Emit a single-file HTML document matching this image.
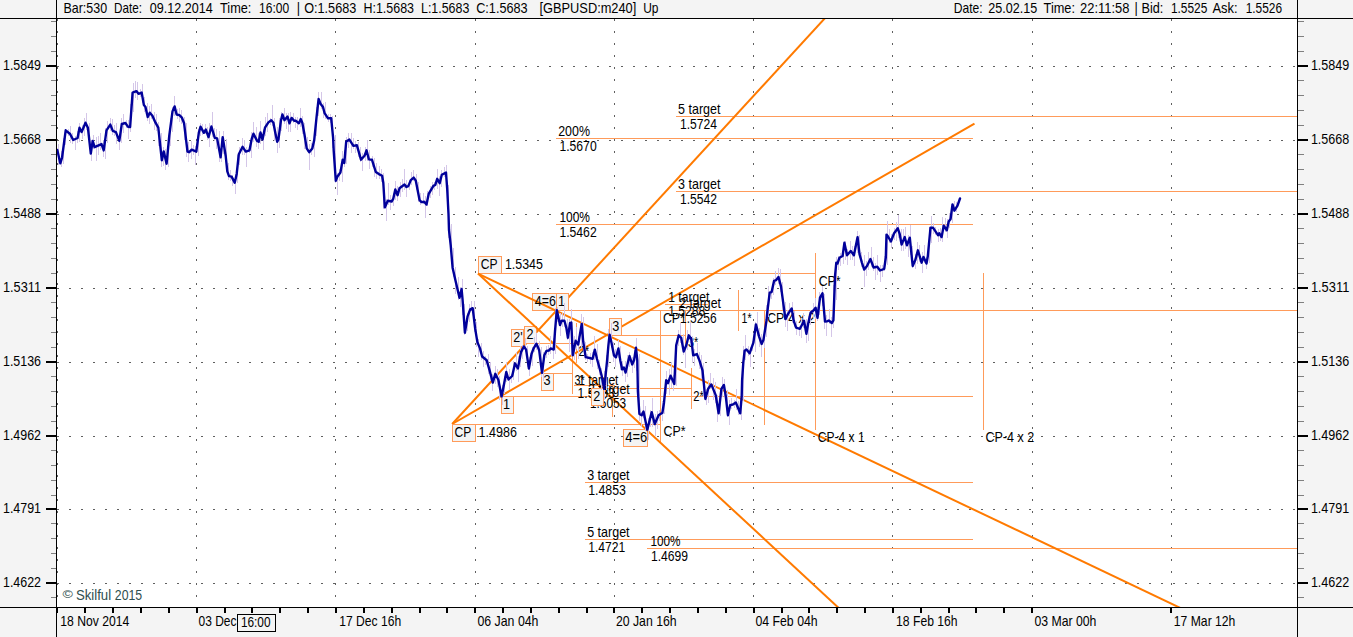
<!DOCTYPE html>
<html><head><meta charset="utf-8"><title>GBPUSD m240</title>
<style>html,body{margin:0;padding:0;background:#f4f4f4;}body{width:1353px;height:637px;overflow:hidden;}svg{display:block;font-family:"Liberation Sans",sans-serif;font-size:13.75px;fill:#000;}.c{shape-rendering:crispEdges;}</style></head><body>
<svg width="1353" height="637" viewBox="0 0 1353 637">
<rect x="0" y="0" width="1353" height="637" fill="#f4f4f4"/>
<rect class="c" x="57" y="19" width="1240" height="588" fill="#fff"/>
<g class="c" stroke="#606060" stroke-width="1" fill="none">
<line x1="57" y1="66.5" x2="1297" y2="66.5" stroke-dasharray="2 10"/>
<line x1="57" y1="140.5" x2="1297" y2="140.5" stroke-dasharray="2 10"/>
<line x1="57" y1="214.5" x2="1297" y2="214.5" stroke-dasharray="2 10"/>
<line x1="57" y1="288.5" x2="1297" y2="288.5" stroke-dasharray="2 10"/>
<line x1="57" y1="362.5" x2="1297" y2="362.5" stroke-dasharray="2 10"/>
<line x1="57" y1="436.5" x2="1297" y2="436.5" stroke-dasharray="2 10"/>
<line x1="57" y1="509.5" x2="1297" y2="509.5" stroke-dasharray="2 10"/>
<line x1="57" y1="583.5" x2="1297" y2="583.5" stroke-dasharray="2 10"/>
<line x1="57.5" y1="19" x2="57.5" y2="607" stroke-dasharray="2 10"/>
<line x1="196.5" y1="19" x2="196.5" y2="607" stroke-dasharray="2 10"/>
<line x1="335.5" y1="19" x2="335.5" y2="607" stroke-dasharray="2 10"/>
<line x1="475.5" y1="19" x2="475.5" y2="607" stroke-dasharray="2 10"/>
<line x1="614.5" y1="19" x2="614.5" y2="607" stroke-dasharray="2 10"/>
<line x1="753.5" y1="19" x2="753.5" y2="607" stroke-dasharray="2 10"/>
<line x1="892.5" y1="19" x2="892.5" y2="607" stroke-dasharray="2 10"/>
<line x1="1032.5" y1="19" x2="1032.5" y2="607" stroke-dasharray="2 10"/>
<line x1="1171.5" y1="19" x2="1171.5" y2="607" stroke-dasharray="2 10"/>
</g>
<defs><clipPath id="cp"><rect x="57" y="19" width="1240" height="588"/></clipPath></defs>
<g clip-path="url(#cp)">
<g class="c" stroke="#ff9b5a" stroke-width="1" fill="none">
<line x1="556" y1="138.5" x2="973" y2="138.5"/>
<line x1="676" y1="116.5" x2="1297" y2="116.5"/>
<line x1="676" y1="191.5" x2="1297" y2="191.5"/>
<line x1="556" y1="224.5" x2="973" y2="224.5"/>
<line x1="478" y1="273.5" x2="816" y2="273.5"/>
<line x1="815.5" y1="253" x2="815.5" y2="430"/>
<line x1="568" y1="310.5" x2="1297" y2="310.5"/>
<line x1="536" y1="343.5" x2="576" y2="343.5"/>
<line x1="576.5" y1="323" x2="576.5" y2="363"/>
<line x1="541" y1="373.5" x2="572" y2="373.5"/>
<line x1="572.5" y1="353" x2="572.5" y2="394"/>
<line x1="621" y1="335.5" x2="686" y2="335.5"/>
<line x1="685.5" y1="310" x2="685.5" y2="356"/>
<line x1="660.5" y1="310" x2="660.5" y2="443"/>
<line x1="738.5" y1="290" x2="738.5" y2="331"/>
<line x1="764.5" y1="310" x2="764.5" y2="425"/>
<line x1="983.5" y1="273" x2="983.5" y2="430"/>
<line x1="501" y1="396.5" x2="973" y2="396.5"/>
<line x1="452" y1="424.5" x2="661" y2="424.5"/>
<line x1="603" y1="388.5" x2="692" y2="388.5"/>
<line x1="691.5" y1="368" x2="691.5" y2="409"/>
<line x1="665" y1="304.5" x2="708" y2="304.5"/>
<line x1="574" y1="385.5" x2="615" y2="385.5"/>
<line x1="612.5" y1="383" x2="612.5" y2="417"/>
<line x1="585" y1="482.5" x2="973" y2="482.5"/>
<line x1="585" y1="539.5" x2="973" y2="539.5"/>
<line x1="647" y1="548.5" x2="1297" y2="548.5"/>
</g>
<g stroke="#ff7a00" stroke-width="2.0" fill="none" stroke-linecap="butt">
<line x1="452.2" y1="424.0" x2="852.2" y2="-11.5"/>
<line x1="452.2" y1="424.0" x2="974.5" y2="123.6"/>
</g>
<rect class="c" x="478.5" y="256.5" width="23" height="17" fill="#f4f4f4" stroke="#ff9b5a" stroke-width="1"/>
<rect class="c" x="452.5" y="424.5" width="23" height="17" fill="#f4f4f4" stroke="#ff9b5a" stroke-width="1"/>
<rect class="c" x="532.5" y="293.5" width="24" height="17" fill="#f4f4f4" stroke="#ff9b5a" stroke-width="1"/>
<rect class="c" x="556.5" y="293.5" width="12" height="17" fill="#f4f4f4" stroke="#ff9b5a" stroke-width="1"/>
<rect class="c" x="511.5" y="329.5" width="12" height="17" fill="#f4f4f4" stroke="#ff9b5a" stroke-width="1"/>
<rect class="c" x="524.5" y="326.5" width="12" height="17" fill="#f4f4f4" stroke="#ff9b5a" stroke-width="1"/>
<rect class="c" x="541.5" y="373.5" width="12" height="17" fill="#f4f4f4" stroke="#ff9b5a" stroke-width="1"/>
<rect class="c" x="501.5" y="396.5" width="12" height="17" fill="#f4f4f4" stroke="#ff9b5a" stroke-width="1"/>
<rect class="c" x="609.5" y="318.5" width="12" height="17" fill="#f4f4f4" stroke="#ff9b5a" stroke-width="1"/>
<rect class="c" x="591.5" y="388.5" width="12" height="17" fill="#f4f4f4" stroke="#ff9b5a" stroke-width="1"/>
<rect class="c" x="623.5" y="429.5" width="24" height="17" fill="#f4f4f4" stroke="#ff9b5a" stroke-width="1"/>
<g stroke="#ff7a00" stroke-width="2.0" fill="none" stroke-linecap="butt">
<line x1="478.0" y1="273.6" x2="878.0" y2="644.4"/>
<line x1="478.0" y1="273.6" x2="1238.0" y2="635.4"/>
</g>
<text x="480.70" y="269.4" textLength="16.80" lengthAdjust="spacingAndGlyphs">CP</text>
<text x="454.60" y="437.1" textLength="16.80" lengthAdjust="spacingAndGlyphs">CP</text>
<text x="534.80" y="305.6" textLength="21.00" lengthAdjust="spacingAndGlyphs">4=6</text>
<text x="558.00" y="305.6" textLength="7.04" lengthAdjust="spacingAndGlyphs">1</text>
<text x="513.20" y="341.7" textLength="9.45" lengthAdjust="spacingAndGlyphs">2'</text>
<text x="526.40" y="338.7" textLength="7.04" lengthAdjust="spacingAndGlyphs">2</text>
<text x="543.60" y="385.3" textLength="7.04" lengthAdjust="spacingAndGlyphs">3</text>
<text x="503.00" y="408.6" textLength="7.04" lengthAdjust="spacingAndGlyphs">1</text>
<text x="612.20" y="330.5" textLength="7.04" lengthAdjust="spacingAndGlyphs">3</text>
<text x="625.20" y="441.7" textLength="22.00" lengthAdjust="spacingAndGlyphs">4=6</text>
<text x="504.90" y="269.4" textLength="38.00" lengthAdjust="spacingAndGlyphs">1.5345</text>
<text x="478.60" y="437.1" textLength="38.30" lengthAdjust="spacingAndGlyphs">1.4986</text>
<text x="558.20" y="135.8" textLength="31.80" lengthAdjust="spacingAndGlyphs">200%</text>
<text x="559.40" y="151.1" textLength="37.30" lengthAdjust="spacingAndGlyphs">1.5670</text>
<text x="678.10" y="113.6" textLength="42.40" lengthAdjust="spacingAndGlyphs">5 target</text>
<text x="680.00" y="128.7" textLength="37.10" lengthAdjust="spacingAndGlyphs">1.5724</text>
<text x="678.10" y="188.6" textLength="42.40" lengthAdjust="spacingAndGlyphs">3 target</text>
<text x="680.00" y="203.7" textLength="37.10" lengthAdjust="spacingAndGlyphs">1.5542</text>
<text x="559.40" y="221.5" textLength="30.60" lengthAdjust="spacingAndGlyphs">100%</text>
<text x="559.40" y="237.2" textLength="37.30" lengthAdjust="spacingAndGlyphs">1.5462</text>
<text x="587.20" y="479.5" textLength="42.40" lengthAdjust="spacingAndGlyphs">3 target</text>
<text x="588.20" y="494.5" textLength="37.70" lengthAdjust="spacingAndGlyphs">1.4853</text>
<text x="587.20" y="537.0" textLength="42.40" lengthAdjust="spacingAndGlyphs">5 target</text>
<text x="588.20" y="551.9" textLength="37.10" lengthAdjust="spacingAndGlyphs">1.4721</text>
<text x="650.40" y="546.0" textLength="30.10" lengthAdjust="spacingAndGlyphs">100%</text>
<text x="651.00" y="561.2" textLength="37.10" lengthAdjust="spacingAndGlyphs">1.4699</text>
<text x="668.20" y="301.6" textLength="41.20" lengthAdjust="spacingAndGlyphs">1 target</text>
<text x="668.20" y="316.0" textLength="37.10" lengthAdjust="spacingAndGlyphs">1.5288</text>
<text x="679.20" y="307.6" textLength="41.80" lengthAdjust="spacingAndGlyphs">2 target</text>
<text x="680.00" y="322.6" textLength="36.60" lengthAdjust="spacingAndGlyphs">1.5256</text>
<text x="662.90" y="322.7" textLength="22.00" lengthAdjust="spacingAndGlyphs">CP*</text>
<text x="574.40" y="384.8" textLength="10.20" lengthAdjust="spacingAndGlyphs">3*</text>
<text x="578.50" y="384.8" textLength="39.90" lengthAdjust="spacingAndGlyphs">1 target</text>
<text x="577.60" y="397.6" textLength="37.10" lengthAdjust="spacingAndGlyphs">1.5083</text>
<text x="587.90" y="393.6" textLength="41.80" lengthAdjust="spacingAndGlyphs">2 target</text>
<text x="590.00" y="408.3" textLength="36.20" lengthAdjust="spacingAndGlyphs">1.5053</text>
<text x="578.50" y="355.9" textLength="10.60" lengthAdjust="spacingAndGlyphs">2*</text>
<text x="688.00" y="347.2" textLength="10.20" lengthAdjust="spacingAndGlyphs">3*</text>
<text x="693.20" y="400.5" textLength="10.60" lengthAdjust="spacingAndGlyphs">2*</text>
<text x="741.50" y="322.6" textLength="10.00" lengthAdjust="spacingAndGlyphs">1*</text>
<text x="767.20" y="322.6" textLength="47.80" lengthAdjust="spacingAndGlyphs">CP-4 x 2</text>
<text x="818.70" y="285.8" textLength="22.00" lengthAdjust="spacingAndGlyphs">CP*</text>
<text x="817.80" y="441.6" textLength="46.80" lengthAdjust="spacingAndGlyphs">CP-4 x 1</text>
<text x="985.40" y="441.6" textLength="48.80" lengthAdjust="spacingAndGlyphs">CP-4 x 2</text>
<text x="663.60" y="436.4" textLength="22.00" lengthAdjust="spacingAndGlyphs">CP*</text>
<rect class="c" x="591.5" y="388.5" width="12" height="17" fill="#f4f4f4" stroke="#ff9b5a" stroke-width="1"/>
<text x="593.30" y="400.8" textLength="7.04" lengthAdjust="spacingAndGlyphs">2</text>
<g class="c" stroke="#d4c6e8" stroke-width="1">
<line x1="58.5" y1="144.0" x2="58.5" y2="164.6"/>
<line x1="61.5" y1="150.9" x2="61.5" y2="166.7"/>
<line x1="63.5" y1="137.5" x2="63.5" y2="164.2"/>
<line x1="65.5" y1="129.1" x2="65.5" y2="145.1"/>
<line x1="68.5" y1="129.0" x2="68.5" y2="136.1"/>
<line x1="70.5" y1="126.0" x2="70.5" y2="143.3"/>
<line x1="72.5" y1="133.2" x2="72.5" y2="143.8"/>
<line x1="75.5" y1="135.8" x2="75.5" y2="149.8"/>
<line x1="77.5" y1="131.4" x2="77.5" y2="142.8"/>
<line x1="79.5" y1="123.4" x2="79.5" y2="141.9"/>
<line x1="82.5" y1="125.0" x2="82.5" y2="138.9"/>
<line x1="84.5" y1="118.4" x2="84.5" y2="136.2"/>
<line x1="86.5" y1="112.6" x2="86.5" y2="129.9"/>
<line x1="89.5" y1="122.8" x2="89.5" y2="148.1"/>
<line x1="91.5" y1="140.3" x2="91.5" y2="161.3"/>
<line x1="93.5" y1="134.9" x2="93.5" y2="148.9"/>
<line x1="96.5" y1="137.2" x2="96.5" y2="160.7"/>
<line x1="98.5" y1="136.2" x2="98.5" y2="155.2"/>
<line x1="100.5" y1="133.1" x2="100.5" y2="150.2"/>
<line x1="103.5" y1="140.2" x2="103.5" y2="156.8"/>
<line x1="105.5" y1="128.2" x2="105.5" y2="159.4"/>
<line x1="107.5" y1="121.4" x2="107.5" y2="142.7"/>
<line x1="110.5" y1="117.7" x2="110.5" y2="130.5"/>
<line x1="112.5" y1="118.5" x2="112.5" y2="135.0"/>
<line x1="114.5" y1="125.0" x2="114.5" y2="135.9"/>
<line x1="116.5" y1="122.9" x2="116.5" y2="143.8"/>
<line x1="119.5" y1="134.0" x2="119.5" y2="149.7"/>
<line x1="121.5" y1="117.9" x2="121.5" y2="142.6"/>
<line x1="123.5" y1="114.2" x2="123.5" y2="132.9"/>
<line x1="126.5" y1="120.2" x2="126.5" y2="128.3"/>
<line x1="128.5" y1="120.2" x2="128.5" y2="139.0"/>
<line x1="130.5" y1="104.1" x2="130.5" y2="131.9"/>
<line x1="133.5" y1="83.1" x2="133.5" y2="112.2"/>
<line x1="135.5" y1="81.2" x2="135.5" y2="98.1"/>
<line x1="137.5" y1="82.2" x2="137.5" y2="99.8"/>
<line x1="140.5" y1="88.9" x2="140.5" y2="96.8"/>
<line x1="142.5" y1="83.9" x2="142.5" y2="103.2"/>
<line x1="144.5" y1="96.8" x2="144.5" y2="112.2"/>
<line x1="147.5" y1="103.0" x2="147.5" y2="120.8"/>
<line x1="149.5" y1="106.2" x2="149.5" y2="123.9"/>
<line x1="151.5" y1="104.1" x2="151.5" y2="119.0"/>
<line x1="154.5" y1="111.8" x2="154.5" y2="130.2"/>
<line x1="156.5" y1="114.0" x2="156.5" y2="130.6"/>
<line x1="158.5" y1="121.5" x2="158.5" y2="145.5"/>
<line x1="161.5" y1="132.7" x2="161.5" y2="167.0"/>
<line x1="163.5" y1="147.1" x2="163.5" y2="166.3"/>
<line x1="165.5" y1="148.8" x2="165.5" y2="169.9"/>
<line x1="168.5" y1="137.2" x2="168.5" y2="166.6"/>
<line x1="170.5" y1="118.2" x2="170.5" y2="146.0"/>
<line x1="172.5" y1="107.3" x2="172.5" y2="131.8"/>
<line x1="174.5" y1="95.6" x2="174.5" y2="115.9"/>
<line x1="177.5" y1="108.5" x2="177.5" y2="118.9"/>
<line x1="179.5" y1="107.8" x2="179.5" y2="122.1"/>
<line x1="181.5" y1="110.1" x2="181.5" y2="123.6"/>
<line x1="184.5" y1="117.4" x2="184.5" y2="139.6"/>
<line x1="186.5" y1="123.0" x2="186.5" y2="156.9"/>
<line x1="188.5" y1="142.3" x2="188.5" y2="161.9"/>
<line x1="191.5" y1="140.8" x2="191.5" y2="158.9"/>
<line x1="193.5" y1="144.8" x2="193.5" y2="154.8"/>
<line x1="195.5" y1="145.5" x2="195.5" y2="165.2"/>
<line x1="198.5" y1="129.4" x2="198.5" y2="156.1"/>
<line x1="200.5" y1="123.0" x2="200.5" y2="135.7"/>
<line x1="202.5" y1="123.8" x2="202.5" y2="135.2"/>
<line x1="205.5" y1="123.8" x2="205.5" y2="134.0"/>
<line x1="207.5" y1="126.6" x2="207.5" y2="140.3"/>
<line x1="209.5" y1="122.8" x2="209.5" y2="147.1"/>
<line x1="212.5" y1="112.2" x2="212.5" y2="137.2"/>
<line x1="214.5" y1="128.0" x2="214.5" y2="140.9"/>
<line x1="216.5" y1="128.9" x2="216.5" y2="149.3"/>
<line x1="219.5" y1="130.9" x2="219.5" y2="161.9"/>
<line x1="221.5" y1="137.9" x2="221.5" y2="162.4"/>
<line x1="223.5" y1="130.5" x2="223.5" y2="154.0"/>
<line x1="226.5" y1="138.5" x2="226.5" y2="170.0"/>
<line x1="228.5" y1="163.2" x2="228.5" y2="180.1"/>
<line x1="230.5" y1="170.0" x2="230.5" y2="180.6"/>
<line x1="232.5" y1="174.5" x2="232.5" y2="185.7"/>
<line x1="235.5" y1="173.9" x2="235.5" y2="194.2"/>
<line x1="237.5" y1="154.5" x2="237.5" y2="183.2"/>
<line x1="239.5" y1="146.6" x2="239.5" y2="165.3"/>
<line x1="242.5" y1="138.4" x2="242.5" y2="154.7"/>
<line x1="244.5" y1="140.2" x2="244.5" y2="154.8"/>
<line x1="246.5" y1="146.7" x2="246.5" y2="167.4"/>
<line x1="249.5" y1="146.0" x2="249.5" y2="153.0"/>
<line x1="251.5" y1="132.4" x2="251.5" y2="157.5"/>
<line x1="253.5" y1="122.1" x2="253.5" y2="141.6"/>
<line x1="256.5" y1="126.7" x2="256.5" y2="146.5"/>
<line x1="258.5" y1="133.1" x2="258.5" y2="149.4"/>
<line x1="260.5" y1="121.3" x2="260.5" y2="143.5"/>
<line x1="263.5" y1="129.1" x2="263.5" y2="149.8"/>
<line x1="265.5" y1="116.9" x2="265.5" y2="135.5"/>
<line x1="267.5" y1="113.3" x2="267.5" y2="132.0"/>
<line x1="270.5" y1="117.6" x2="270.5" y2="125.4"/>
<line x1="272.5" y1="104.6" x2="272.5" y2="126.4"/>
<line x1="274.5" y1="118.3" x2="274.5" y2="140.5"/>
<line x1="277.5" y1="127.1" x2="277.5" y2="152.7"/>
<line x1="279.5" y1="117.8" x2="279.5" y2="147.9"/>
<line x1="281.5" y1="111.6" x2="281.5" y2="131.4"/>
<line x1="284.5" y1="107.8" x2="284.5" y2="123.8"/>
<line x1="286.5" y1="113.1" x2="286.5" y2="128.9"/>
<line x1="288.5" y1="113.2" x2="288.5" y2="131.9"/>
<line x1="290.5" y1="112.0" x2="290.5" y2="131.6"/>
<line x1="293.5" y1="112.9" x2="293.5" y2="122.7"/>
<line x1="295.5" y1="116.6" x2="295.5" y2="128.1"/>
<line x1="297.5" y1="117.0" x2="297.5" y2="130.1"/>
<line x1="300.5" y1="107.7" x2="300.5" y2="127.0"/>
<line x1="302.5" y1="115.5" x2="302.5" y2="134.1"/>
<line x1="304.5" y1="122.7" x2="304.5" y2="148.6"/>
<line x1="307.5" y1="137.1" x2="307.5" y2="152.3"/>
<line x1="309.5" y1="144.2" x2="309.5" y2="170.0"/>
<line x1="311.5" y1="143.2" x2="311.5" y2="155.0"/>
<line x1="314.5" y1="131.4" x2="314.5" y2="156.5"/>
<line x1="316.5" y1="107.2" x2="316.5" y2="136.2"/>
<line x1="318.5" y1="92.3" x2="318.5" y2="115.9"/>
<line x1="321.5" y1="92.2" x2="321.5" y2="108.5"/>
<line x1="323.5" y1="103.4" x2="323.5" y2="117.6"/>
<line x1="325.5" y1="102.3" x2="325.5" y2="119.0"/>
<line x1="328.5" y1="113.9" x2="328.5" y2="122.3"/>
<line x1="330.5" y1="114.3" x2="330.5" y2="123.3"/>
<line x1="332.5" y1="116.3" x2="332.5" y2="148.4"/>
<line x1="335.5" y1="134.7" x2="335.5" y2="182.5"/>
<line x1="337.5" y1="172.6" x2="337.5" y2="195.4"/>
<line x1="339.5" y1="168.5" x2="339.5" y2="180.7"/>
<line x1="342.5" y1="150.9" x2="342.5" y2="181.7"/>
<line x1="344.5" y1="150.4" x2="344.5" y2="167.1"/>
<line x1="346.5" y1="136.8" x2="346.5" y2="164.3"/>
<line x1="348.5" y1="133.1" x2="348.5" y2="147.8"/>
<line x1="351.5" y1="132.9" x2="351.5" y2="152.7"/>
<line x1="353.5" y1="137.6" x2="353.5" y2="148.7"/>
<line x1="355.5" y1="141.3" x2="355.5" y2="152.8"/>
<line x1="358.5" y1="142.4" x2="358.5" y2="156.6"/>
<line x1="360.5" y1="147.3" x2="360.5" y2="162.4"/>
<line x1="362.5" y1="152.8" x2="362.5" y2="170.5"/>
<line x1="365.5" y1="146.8" x2="365.5" y2="160.9"/>
<line x1="367.5" y1="140.1" x2="367.5" y2="161.0"/>
<line x1="369.5" y1="149.7" x2="369.5" y2="168.6"/>
<line x1="372.5" y1="155.6" x2="372.5" y2="166.7"/>
<line x1="374.5" y1="158.4" x2="374.5" y2="177.1"/>
<line x1="376.5" y1="162.9" x2="376.5" y2="179.2"/>
<line x1="379.5" y1="166.1" x2="379.5" y2="178.6"/>
<line x1="381.5" y1="168.6" x2="381.5" y2="182.3"/>
<line x1="383.5" y1="172.8" x2="383.5" y2="208.5"/>
<line x1="386.5" y1="199.1" x2="386.5" y2="220.6"/>
<line x1="388.5" y1="182.8" x2="388.5" y2="205.1"/>
<line x1="390.5" y1="195.0" x2="390.5" y2="209.5"/>
<line x1="393.5" y1="193.3" x2="393.5" y2="205.5"/>
<line x1="395.5" y1="181.3" x2="395.5" y2="199.7"/>
<line x1="397.5" y1="186.3" x2="397.5" y2="201.3"/>
<line x1="400.5" y1="182.4" x2="400.5" y2="196.5"/>
<line x1="402.5" y1="178.6" x2="402.5" y2="192.4"/>
<line x1="404.5" y1="168.7" x2="404.5" y2="189.7"/>
<line x1="406.5" y1="179.6" x2="406.5" y2="197.0"/>
<line x1="409.5" y1="180.0" x2="409.5" y2="190.4"/>
<line x1="411.5" y1="171.8" x2="411.5" y2="185.2"/>
<line x1="413.5" y1="169.8" x2="413.5" y2="181.0"/>
<line x1="416.5" y1="173.9" x2="416.5" y2="189.8"/>
<line x1="418.5" y1="182.3" x2="418.5" y2="201.7"/>
<line x1="420.5" y1="193.2" x2="420.5" y2="205.1"/>
<line x1="423.5" y1="192.7" x2="423.5" y2="204.1"/>
<line x1="425.5" y1="195.8" x2="425.5" y2="218.3"/>
<line x1="427.5" y1="190.5" x2="427.5" y2="206.2"/>
<line x1="430.5" y1="186.1" x2="430.5" y2="197.9"/>
<line x1="432.5" y1="182.1" x2="432.5" y2="195.2"/>
<line x1="434.5" y1="182.1" x2="434.5" y2="190.2"/>
<line x1="437.5" y1="169.0" x2="437.5" y2="189.4"/>
<line x1="439.5" y1="175.8" x2="439.5" y2="195.9"/>
<line x1="441.5" y1="170.4" x2="441.5" y2="186.6"/>
<line x1="444.5" y1="167.2" x2="444.5" y2="176.5"/>
<line x1="446.5" y1="164.6" x2="446.5" y2="190.1"/>
<line x1="448.5" y1="185.0" x2="448.5" y2="238.1"/>
<line x1="451.5" y1="224.4" x2="451.5" y2="261.9"/>
<line x1="453.5" y1="248.0" x2="453.5" y2="277.4"/>
<line x1="455.5" y1="267.0" x2="455.5" y2="293.6"/>
<line x1="458.5" y1="277.2" x2="458.5" y2="299.5"/>
<line x1="460.5" y1="287.3" x2="460.5" y2="307.3"/>
<line x1="462.5" y1="278.6" x2="462.5" y2="315.1"/>
<line x1="464.5" y1="304.0" x2="464.5" y2="334.8"/>
<line x1="467.5" y1="313.2" x2="467.5" y2="331.3"/>
<line x1="469.5" y1="304.3" x2="469.5" y2="322.4"/>
<line x1="471.5" y1="301.2" x2="471.5" y2="311.4"/>
<line x1="474.5" y1="301.3" x2="474.5" y2="332.1"/>
<line x1="476.5" y1="322.4" x2="476.5" y2="346.5"/>
<line x1="478.5" y1="339.0" x2="478.5" y2="356.5"/>
<line x1="481.5" y1="343.3" x2="481.5" y2="359.9"/>
<line x1="483.5" y1="350.6" x2="483.5" y2="367.3"/>
<line x1="485.5" y1="356.2" x2="485.5" y2="365.2"/>
<line x1="488.5" y1="354.1" x2="488.5" y2="374.0"/>
<line x1="490.5" y1="361.7" x2="490.5" y2="380.6"/>
<line x1="492.5" y1="374.3" x2="492.5" y2="390.8"/>
<line x1="495.5" y1="365.9" x2="495.5" y2="384.3"/>
<line x1="497.5" y1="368.8" x2="497.5" y2="386.6"/>
<line x1="499.5" y1="376.4" x2="499.5" y2="399.8"/>
<line x1="502.5" y1="385.3" x2="502.5" y2="405.3"/>
<line x1="504.5" y1="376.2" x2="504.5" y2="393.7"/>
<line x1="506.5" y1="362.2" x2="506.5" y2="381.7"/>
<line x1="509.5" y1="368.7" x2="509.5" y2="390.4"/>
<line x1="511.5" y1="374.1" x2="511.5" y2="383.4"/>
<line x1="513.5" y1="361.0" x2="513.5" y2="380.2"/>
<line x1="516.5" y1="352.3" x2="516.5" y2="370.5"/>
<line x1="518.5" y1="356.4" x2="518.5" y2="382.4"/>
<line x1="520.5" y1="346.4" x2="520.5" y2="366.8"/>
<line x1="522.5" y1="344.9" x2="522.5" y2="358.5"/>
<line x1="525.5" y1="338.0" x2="525.5" y2="351.5"/>
<line x1="527.5" y1="346.4" x2="527.5" y2="366.7"/>
<line x1="529.5" y1="356.7" x2="529.5" y2="376.4"/>
<line x1="532.5" y1="347.1" x2="532.5" y2="366.1"/>
<line x1="534.5" y1="336.6" x2="534.5" y2="352.3"/>
<line x1="536.5" y1="332.8" x2="536.5" y2="350.4"/>
<line x1="539.5" y1="341.2" x2="539.5" y2="358.3"/>
<line x1="541.5" y1="346.6" x2="541.5" y2="376.9"/>
<line x1="543.5" y1="351.7" x2="543.5" y2="380.5"/>
<line x1="546.5" y1="345.8" x2="546.5" y2="357.9"/>
<line x1="548.5" y1="345.2" x2="548.5" y2="354.8"/>
<line x1="550.5" y1="335.7" x2="550.5" y2="354.3"/>
<line x1="553.5" y1="338.4" x2="553.5" y2="359.2"/>
<line x1="555.5" y1="308.4" x2="555.5" y2="353.5"/>
<line x1="557.5" y1="307.3" x2="557.5" y2="322.4"/>
<line x1="560.5" y1="313.3" x2="560.5" y2="336.2"/>
<line x1="562.5" y1="312.7" x2="562.5" y2="327.1"/>
<line x1="564.5" y1="302.7" x2="564.5" y2="326.5"/>
<line x1="567.5" y1="319.3" x2="567.5" y2="339.9"/>
<line x1="569.5" y1="319.2" x2="569.5" y2="352.4"/>
<line x1="571.5" y1="308.6" x2="571.5" y2="356.0"/>
<line x1="574.5" y1="336.3" x2="574.5" y2="359.6"/>
<line x1="576.5" y1="327.0" x2="576.5" y2="349.0"/>
<line x1="578.5" y1="335.6" x2="578.5" y2="358.6"/>
<line x1="581.5" y1="313.9" x2="581.5" y2="347.1"/>
<line x1="583.5" y1="317.4" x2="583.5" y2="350.6"/>
<line x1="585.5" y1="342.1" x2="585.5" y2="360.3"/>
<line x1="587.5" y1="354.3" x2="587.5" y2="361.8"/>
<line x1="590.5" y1="352.8" x2="590.5" y2="364.4"/>
<line x1="592.5" y1="351.9" x2="592.5" y2="366.7"/>
<line x1="594.5" y1="336.2" x2="594.5" y2="360.2"/>
<line x1="597.5" y1="343.8" x2="597.5" y2="369.4"/>
<line x1="599.5" y1="360.1" x2="599.5" y2="374.7"/>
<line x1="601.5" y1="368.4" x2="601.5" y2="389.6"/>
<line x1="604.5" y1="371.2" x2="604.5" y2="400.3"/>
<line x1="606.5" y1="355.0" x2="606.5" y2="389.8"/>
<line x1="608.5" y1="329.1" x2="608.5" y2="366.9"/>
<line x1="611.5" y1="322.8" x2="611.5" y2="347.6"/>
<line x1="613.5" y1="342.2" x2="613.5" y2="361.6"/>
<line x1="615.5" y1="349.2" x2="615.5" y2="366.7"/>
<line x1="618.5" y1="340.1" x2="618.5" y2="357.5"/>
<line x1="620.5" y1="345.6" x2="620.5" y2="370.4"/>
<line x1="622.5" y1="361.0" x2="622.5" y2="376.3"/>
<line x1="625.5" y1="361.0" x2="625.5" y2="381.8"/>
<line x1="627.5" y1="354.6" x2="627.5" y2="377.2"/>
<line x1="629.5" y1="352.1" x2="629.5" y2="366.9"/>
<line x1="632.5" y1="356.6" x2="632.5" y2="373.1"/>
<line x1="634.5" y1="349.8" x2="634.5" y2="368.3"/>
<line x1="636.5" y1="337.5" x2="636.5" y2="370.5"/>
<line x1="639.5" y1="354.4" x2="639.5" y2="421.2"/>
<line x1="641.5" y1="412.1" x2="641.5" y2="426.8"/>
<line x1="643.5" y1="400.3" x2="643.5" y2="417.5"/>
<line x1="645.5" y1="406.1" x2="645.5" y2="430.6"/>
<line x1="648.5" y1="418.0" x2="648.5" y2="439.8"/>
<line x1="650.5" y1="409.7" x2="650.5" y2="427.3"/>
<line x1="652.5" y1="398.0" x2="652.5" y2="426.5"/>
<line x1="655.5" y1="414.2" x2="655.5" y2="435.9"/>
<line x1="657.5" y1="411.1" x2="657.5" y2="428.6"/>
<line x1="659.5" y1="410.0" x2="659.5" y2="421.3"/>
<line x1="662.5" y1="400.6" x2="662.5" y2="421.0"/>
<line x1="664.5" y1="387.2" x2="664.5" y2="414.1"/>
<line x1="666.5" y1="371.3" x2="666.5" y2="394.0"/>
<line x1="669.5" y1="368.8" x2="669.5" y2="395.3"/>
<line x1="671.5" y1="361.5" x2="671.5" y2="388.2"/>
<line x1="673.5" y1="375.0" x2="673.5" y2="390.7"/>
<line x1="676.5" y1="339.8" x2="676.5" y2="385.5"/>
<line x1="678.5" y1="329.7" x2="678.5" y2="346.1"/>
<line x1="680.5" y1="322.7" x2="680.5" y2="343.2"/>
<line x1="683.5" y1="333.8" x2="683.5" y2="355.4"/>
<line x1="685.5" y1="343.8" x2="685.5" y2="367.6"/>
<line x1="687.5" y1="329.8" x2="687.5" y2="350.0"/>
<line x1="690.5" y1="322.4" x2="690.5" y2="343.2"/>
<line x1="692.5" y1="336.1" x2="692.5" y2="363.2"/>
<line x1="694.5" y1="348.5" x2="694.5" y2="366.1"/>
<line x1="697.5" y1="343.2" x2="697.5" y2="359.1"/>
<line x1="699.5" y1="351.9" x2="699.5" y2="369.4"/>
<line x1="701.5" y1="355.1" x2="701.5" y2="378.8"/>
<line x1="703.5" y1="362.5" x2="703.5" y2="396.7"/>
<line x1="706.5" y1="388.9" x2="706.5" y2="404.6"/>
<line x1="708.5" y1="380.2" x2="708.5" y2="402.5"/>
<line x1="710.5" y1="373.2" x2="710.5" y2="389.4"/>
<line x1="713.5" y1="378.0" x2="713.5" y2="399.8"/>
<line x1="715.5" y1="381.6" x2="715.5" y2="402.6"/>
<line x1="717.5" y1="395.1" x2="717.5" y2="422.2"/>
<line x1="720.5" y1="389.2" x2="720.5" y2="415.7"/>
<line x1="722.5" y1="377.0" x2="722.5" y2="396.9"/>
<line x1="724.5" y1="379.2" x2="724.5" y2="396.8"/>
<line x1="727.5" y1="390.3" x2="727.5" y2="416.8"/>
<line x1="729.5" y1="400.2" x2="729.5" y2="425.1"/>
<line x1="731.5" y1="397.6" x2="731.5" y2="408.5"/>
<line x1="734.5" y1="400.2" x2="734.5" y2="407.6"/>
<line x1="736.5" y1="388.9" x2="736.5" y2="409.7"/>
<line x1="738.5" y1="400.5" x2="738.5" y2="415.4"/>
<line x1="741.5" y1="391.1" x2="741.5" y2="420.2"/>
<line x1="743.5" y1="346.4" x2="743.5" y2="401.3"/>
<line x1="745.5" y1="334.6" x2="745.5" y2="360.1"/>
<line x1="748.5" y1="345.6" x2="748.5" y2="356.2"/>
<line x1="750.5" y1="347.2" x2="750.5" y2="366.6"/>
<line x1="752.5" y1="340.7" x2="752.5" y2="351.4"/>
<line x1="755.5" y1="321.9" x2="755.5" y2="351.9"/>
<line x1="757.5" y1="312.4" x2="757.5" y2="335.5"/>
<line x1="759.5" y1="328.2" x2="759.5" y2="347.2"/>
<line x1="761.5" y1="334.0" x2="761.5" y2="356.5"/>
<line x1="764.5" y1="328.2" x2="764.5" y2="347.8"/>
<line x1="766.5" y1="305.0" x2="766.5" y2="336.7"/>
<line x1="768.5" y1="286.3" x2="768.5" y2="316.6"/>
<line x1="771.5" y1="288.6" x2="771.5" y2="299.0"/>
<line x1="773.5" y1="277.7" x2="773.5" y2="294.9"/>
<line x1="775.5" y1="270.5" x2="775.5" y2="284.8"/>
<line x1="778.5" y1="268.0" x2="778.5" y2="283.6"/>
<line x1="780.5" y1="269.2" x2="780.5" y2="292.0"/>
<line x1="782.5" y1="282.4" x2="782.5" y2="310.1"/>
<line x1="785.5" y1="301.5" x2="785.5" y2="327.2"/>
<line x1="787.5" y1="309.7" x2="787.5" y2="331.3"/>
<line x1="789.5" y1="303.2" x2="789.5" y2="315.8"/>
<line x1="792.5" y1="301.5" x2="792.5" y2="322.5"/>
<line x1="794.5" y1="311.0" x2="794.5" y2="326.9"/>
<line x1="796.5" y1="320.7" x2="796.5" y2="335.1"/>
<line x1="799.5" y1="326.1" x2="799.5" y2="335.8"/>
<line x1="801.5" y1="317.6" x2="801.5" y2="337.7"/>
<line x1="803.5" y1="313.4" x2="803.5" y2="327.7"/>
<line x1="806.5" y1="318.6" x2="806.5" y2="342.9"/>
<line x1="808.5" y1="315.7" x2="808.5" y2="341.3"/>
<line x1="810.5" y1="310.2" x2="810.5" y2="325.0"/>
<line x1="813.5" y1="303.3" x2="813.5" y2="318.2"/>
<line x1="815.5" y1="297.8" x2="815.5" y2="319.4"/>
<line x1="817.5" y1="306.6" x2="817.5" y2="320.9"/>
<line x1="819.5" y1="291.5" x2="819.5" y2="314.7"/>
<line x1="822.5" y1="285.6" x2="822.5" y2="305.7"/>
<line x1="824.5" y1="293.8" x2="824.5" y2="328.6"/>
<line x1="826.5" y1="315.1" x2="826.5" y2="335.6"/>
<line x1="829.5" y1="308.5" x2="829.5" y2="323.5"/>
<line x1="831.5" y1="317.4" x2="831.5" y2="337.4"/>
<line x1="833.5" y1="285.0" x2="833.5" y2="328.4"/>
<line x1="836.5" y1="257.1" x2="836.5" y2="300.1"/>
<line x1="838.5" y1="256.3" x2="838.5" y2="270.0"/>
<line x1="840.5" y1="252.6" x2="840.5" y2="265.6"/>
<line x1="843.5" y1="244.8" x2="843.5" y2="263.6"/>
<line x1="845.5" y1="240.6" x2="845.5" y2="260.4"/>
<line x1="847.5" y1="249.0" x2="847.5" y2="264.9"/>
<line x1="850.5" y1="241.1" x2="850.5" y2="259.6"/>
<line x1="852.5" y1="246.0" x2="852.5" y2="260.3"/>
<line x1="854.5" y1="245.6" x2="854.5" y2="266.1"/>
<line x1="857.5" y1="230.7" x2="857.5" y2="253.0"/>
<line x1="859.5" y1="235.0" x2="859.5" y2="258.2"/>
<line x1="861.5" y1="251.9" x2="861.5" y2="267.2"/>
<line x1="864.5" y1="254.9" x2="864.5" y2="286.9"/>
<line x1="866.5" y1="261.0" x2="866.5" y2="276.0"/>
<line x1="868.5" y1="252.1" x2="868.5" y2="270.1"/>
<line x1="871.5" y1="247.3" x2="871.5" y2="266.5"/>
<line x1="873.5" y1="257.2" x2="873.5" y2="271.4"/>
<line x1="875.5" y1="263.0" x2="875.5" y2="280.4"/>
<line x1="877.5" y1="255.0" x2="877.5" y2="274.7"/>
<line x1="880.5" y1="264.6" x2="880.5" y2="282.2"/>
<line x1="882.5" y1="265.2" x2="882.5" y2="277.2"/>
<line x1="884.5" y1="255.8" x2="884.5" y2="271.3"/>
<line x1="887.5" y1="220.9" x2="887.5" y2="265.4"/>
<line x1="889.5" y1="229.3" x2="889.5" y2="243.4"/>
<line x1="891.5" y1="234.2" x2="891.5" y2="248.3"/>
<line x1="894.5" y1="228.2" x2="894.5" y2="240.4"/>
<line x1="896.5" y1="222.1" x2="896.5" y2="241.3"/>
<line x1="898.5" y1="215.2" x2="898.5" y2="237.5"/>
<line x1="901.5" y1="229.3" x2="901.5" y2="251.0"/>
<line x1="903.5" y1="229.4" x2="903.5" y2="251.2"/>
<line x1="905.5" y1="226.6" x2="905.5" y2="248.8"/>
<line x1="908.5" y1="235.3" x2="908.5" y2="256.5"/>
<line x1="910.5" y1="225.1" x2="910.5" y2="254.8"/>
<line x1="912.5" y1="246.0" x2="912.5" y2="268.3"/>
<line x1="915.5" y1="254.3" x2="915.5" y2="268.5"/>
<line x1="917.5" y1="242.0" x2="917.5" y2="263.6"/>
<line x1="919.5" y1="244.7" x2="919.5" y2="261.7"/>
<line x1="922.5" y1="251.5" x2="922.5" y2="272.5"/>
<line x1="924.5" y1="244.8" x2="924.5" y2="263.4"/>
<line x1="926.5" y1="256.7" x2="926.5" y2="268.9"/>
<line x1="929.5" y1="227.2" x2="929.5" y2="263.1"/>
<line x1="931.5" y1="215.7" x2="931.5" y2="243.0"/>
<line x1="933.5" y1="222.7" x2="933.5" y2="233.7"/>
<line x1="935.5" y1="226.6" x2="935.5" y2="235.2"/>
<line x1="938.5" y1="229.1" x2="938.5" y2="241.9"/>
<line x1="940.5" y1="227.9" x2="940.5" y2="240.6"/>
<line x1="942.5" y1="217.2" x2="942.5" y2="241.5"/>
<line x1="945.5" y1="217.7" x2="945.5" y2="232.0"/>
<line x1="947.5" y1="219.4" x2="947.5" y2="238.0"/>
<line x1="949.5" y1="212.9" x2="949.5" y2="227.8"/>
<line x1="952.5" y1="203.7" x2="952.5" y2="223.0"/>
<line x1="954.5" y1="200.5" x2="954.5" y2="211.4"/>
<line x1="956.5" y1="201.6" x2="956.5" y2="211.5"/>
</g>
<polyline fill="none" stroke="#00009a" stroke-width="2.4" stroke-linejoin="round" stroke-linecap="round" points="57.3,150.0 60.3,163.3 62.0,158.0 65.7,130.3 70.1,134.0 73.2,140.0 77.6,138.0 79.5,127.7 81.6,132.1 85.5,122.7 87.9,127.7 90.8,153.5 92.7,140.9 94.6,147.2 101.5,144.1 103.7,150.4 106.5,130.3 110.3,124.6 112.8,130.9 115.9,132.1 119.3,140.9 121.8,124.0 125.4,123.0 127.9,126.7 130.1,127.1 132.6,92.6 136.4,91.1 138.5,93.8 141.7,92.6 143.9,105.1 145.5,107.0 147.7,117.1 149.8,112.7 152.4,115.8 155.5,122.7 158.3,127.7 161.8,160.2 163.7,151.4 166.6,163.7 169.3,135.3 172.5,111.4 174.6,106.4 176.6,114.5 179.4,115.2 181.9,117.7 184.1,123.3 187.5,151.6 189.2,152.2 191.7,149.7 196.3,151.6 198.8,132.8 200.5,126.7 203.9,132.8 205.8,129.6 208.5,137.2 211.4,126.5 214.8,137.8 217.1,138.4 220.6,157.3 222.7,137.2 225.7,156.0 227.3,171.4 229.0,176.1 231.6,176.6 234.7,182.7 236.7,173.9 238.8,154.2 242.6,146.8 245.8,151.6 249.5,150.3 251.7,139.0 253.5,133.7 257.1,140.9 258.7,141.8 260.5,132.5 262.5,139.6 265.0,127.7 268.4,122.4 271.3,120.2 273.4,122.7 275.3,132.7 277.2,141.8 278.4,139.6 280.9,120.8 282.4,114.5 284.4,120.2 287.5,116.6 289.5,123.3 291.6,117.9 294.1,120.8 296.0,120.8 298.9,123.3 300.7,119.1 302.3,122.7 304.4,134.0 306.7,148.4 309.2,152.2 312.3,148.4 314.2,140.3 316.5,117.6 318.6,99.0 320.5,103.8 323.0,107.0 324.6,113.2 328.0,118.3 331.2,118.3 333.1,137.7 333.7,150.6 335.8,180.8 337.5,176.4 340.4,172.6 342.7,159.8 344.3,163.0 346.2,141.5 349.4,139.6 353.4,145.9 356.9,145.3 361.0,159.7 364.5,155.8 366.5,150.3 368.9,159.4 372.0,159.8 375.8,172.0 378.9,174.1 382.1,175.8 383.3,182.7 384.8,207.4 387.8,200.8 391.6,201.5 393.2,198.9 395.3,189.5 397.6,195.2 399.5,188.3 404.5,184.5 406.4,187.0 408.3,186.1 410.8,180.1 413.7,177.6 415.8,180.7 419.6,200.2 421.5,202.1 424.2,201.7 426.5,204.6 428.7,193.9 433.4,185.8 435.3,184.9 437.2,178.8 439.7,183.2 441.8,174.8 446.0,172.6 447.2,188.9 448.5,214.0 449.0,230.0 450.7,245.1 452.6,267.7 455.7,281.5 459.5,297.8 461.6,289.0 462.6,300.0 464.9,332.7 467.6,316.3 470.2,309.4 472.7,308.2 475.2,328.9 477.4,342.1 480.0,348.4 482.1,356.5 486.7,360.3 489.6,370.4 492.8,382.6 495.3,373.8 498.4,380.0 501.6,396.4 504.1,383.8 506.3,372.0 508.5,379.5 512.2,376.0 515.0,363.4 517.9,368.5 521.0,352.1 523.9,346.5 526.1,349.6 528.9,368.5 531.5,354.0 533.6,348.4 536.5,343.7 539.2,350.3 542.0,372.9 544.3,355.3 546.5,350.9 549.0,350.5 550.6,348.4 553.7,349.6 555.0,331.4 556.8,310.1 558.1,315.7 560.0,325.1 561.6,320.7 564.4,320.7 566.3,327.6 567.9,337.7 570.0,323.2 571.3,322.6 572.8,355.3 575.7,340.8 578.2,344.6 581.7,323.9 583.2,341.5 585.7,357.2 589.5,358.0 592.6,358.8 594.8,349.6 597.0,359.0 601.5,375.1 604.2,388.9 607.1,360.4 608.4,345.3 609.6,334.6 611.5,342.8 614.0,355.4 615.9,357.3 618.4,348.5 620.3,360.4 622.2,369.4 623.8,367.5 625.6,372.6 628.0,362.0 629.5,356.0 632.2,364.4 634.1,360.0 636.0,347.8 637.3,360.4 637.9,391.4 639.4,414.0 641.7,415.3 643.5,411.5 647.3,429.7 651.7,412.1 654.8,424.1 658.6,415.3 662.4,412.8 664.0,402.7 666.2,380.1 668.0,383.2 670.6,375.7 674.3,383.9 676.2,345.3 678.7,335.3 681.2,337.8 683.7,351.6 686.3,345.3 688.8,335.3 691.3,339.0 693.2,355.4 696.9,354.1 699.4,360.4 702.5,370.3 705.4,399.0 708.2,388.8 711.3,384.4 715.7,395.1 718.6,413.3 721.4,388.8 723.9,385.0 725.8,396.3 727.9,415.2 730.2,405.1 732.9,404.5 735.8,402.6 737.7,407.0 740.2,413.3 741.7,396.3 742.1,380.3 743.3,362.7 744.6,350.8 746.5,349.5 749.6,353.3 753.4,342.6 755.9,324.4 759.0,336.3 761.6,343.9 763.4,340.1 766.6,320.0 767.2,312.8 769.7,292.7 771.6,292.1 774.1,280.8 776.0,280.2 778.5,277.0 781.0,286.4 782.9,300.3 785.4,319.1 787.9,314.1 791.7,308.4 793.6,320.4 796.1,327.7 799.9,328.8 802.4,324.0 804.0,320.8 806.4,333.8 808.2,323.5 810.6,312.8 813.7,310.3 815.6,307.8 817.5,317.8 820.0,297.7 822.5,293.3 825.0,321.6 826.9,321.4 828.8,320.5 831.8,323.0 833.4,320.4 835.1,275.1 836.3,262.7 837.5,263.5 839.4,257.8 842.6,256.0 844.4,242.8 847.0,255.3 850.7,250.9 853.9,255.3 857.6,237.1 859.5,254.1 861.9,262.6 864.2,269.6 867.0,266.1 870.4,259.0 873.6,267.5 877.3,266.8 880.0,270.5 884.2,268.9 885.8,257.5 886.5,234.6 888.0,236.5 890.9,241.5 894.1,233.3 897.8,228.3 899.7,234.0 901.6,244.6 904.7,237.1 906.9,245.3 909.8,237.7 912.7,266.0 915.3,260.1 917.9,250.3 921.6,262.7 923.5,257.0 926.5,263.6 927.8,256.3 930.5,227.7 933.0,227.7 938.0,235.2 939.3,233.3 941.6,237.1 943.7,225.8 946.8,230.2 948.7,221.4 950.6,218.9 952.5,204.4 954.4,210.7 957.5,205.7 960.0,198.5"/>
</g>
<text transform="translate(62.40,597.9) scale(1.12,0.9)" x="-0.00" y="0" fill="#2f4f4f" font-size="12.6">©</text>
<text x="75.90" y="599.6" textLength="35.19" lengthAdjust="spacingAndGlyphs" fill="#2f4f4f">Skilful</text>
<text x="114.80" y="599.6" textLength="27.40" lengthAdjust="spacingAndGlyphs" fill="#2f4f4f">2015</text>
<g class="c" fill="#000">
<rect x="0" y="18" width="1353" height="1"/>
<rect x="0" y="607" width="1353" height="1"/>
<rect x="56" y="0" width="1" height="637"/>
<rect x="1297" y="0" width="1" height="637"/>
<rect x="46" y="65" width="10" height="2"/>
<rect x="1298" y="65" width="10" height="2"/>
<rect x="51" y="21" width="5" height="1" fill="#808080"/>
<rect x="1298" y="21" width="6" height="1" fill="#808080"/>
<rect x="51" y="36" width="5" height="1" fill="#808080"/>
<rect x="1298" y="36" width="6" height="1" fill="#808080"/>
<rect x="51" y="51" width="5" height="1" fill="#808080"/>
<rect x="1298" y="51" width="6" height="1" fill="#808080"/>
<rect x="51" y="80" width="5" height="1" fill="#808080"/>
<rect x="1298" y="80" width="6" height="1" fill="#808080"/>
<rect x="51" y="95" width="5" height="1" fill="#808080"/>
<rect x="1298" y="95" width="6" height="1" fill="#808080"/>
<rect x="51" y="110" width="5" height="1" fill="#808080"/>
<rect x="1298" y="110" width="6" height="1" fill="#808080"/>
<rect x="51" y="125" width="5" height="1" fill="#808080"/>
<rect x="1298" y="125" width="6" height="1" fill="#808080"/>
<rect x="46" y="139" width="10" height="2"/>
<rect x="1298" y="139" width="10" height="2"/>
<rect x="51" y="154" width="5" height="1" fill="#808080"/>
<rect x="1298" y="154" width="6" height="1" fill="#808080"/>
<rect x="51" y="169" width="5" height="1" fill="#808080"/>
<rect x="1298" y="169" width="6" height="1" fill="#808080"/>
<rect x="51" y="184" width="5" height="1" fill="#808080"/>
<rect x="1298" y="184" width="6" height="1" fill="#808080"/>
<rect x="51" y="199" width="5" height="1" fill="#808080"/>
<rect x="1298" y="199" width="6" height="1" fill="#808080"/>
<rect x="46" y="213" width="10" height="2"/>
<rect x="1298" y="213" width="10" height="2"/>
<rect x="51" y="228" width="5" height="1" fill="#808080"/>
<rect x="1298" y="228" width="6" height="1" fill="#808080"/>
<rect x="51" y="243" width="5" height="1" fill="#808080"/>
<rect x="1298" y="243" width="6" height="1" fill="#808080"/>
<rect x="51" y="258" width="5" height="1" fill="#808080"/>
<rect x="1298" y="258" width="6" height="1" fill="#808080"/>
<rect x="51" y="273" width="5" height="1" fill="#808080"/>
<rect x="1298" y="273" width="6" height="1" fill="#808080"/>
<rect x="46" y="287" width="10" height="2"/>
<rect x="1298" y="287" width="10" height="2"/>
<rect x="51" y="302" width="5" height="1" fill="#808080"/>
<rect x="1298" y="302" width="6" height="1" fill="#808080"/>
<rect x="51" y="317" width="5" height="1" fill="#808080"/>
<rect x="1298" y="317" width="6" height="1" fill="#808080"/>
<rect x="51" y="332" width="5" height="1" fill="#808080"/>
<rect x="1298" y="332" width="6" height="1" fill="#808080"/>
<rect x="51" y="347" width="5" height="1" fill="#808080"/>
<rect x="1298" y="347" width="6" height="1" fill="#808080"/>
<rect x="46" y="361" width="10" height="2"/>
<rect x="1298" y="361" width="10" height="2"/>
<rect x="51" y="376" width="5" height="1" fill="#808080"/>
<rect x="1298" y="376" width="6" height="1" fill="#808080"/>
<rect x="51" y="391" width="5" height="1" fill="#808080"/>
<rect x="1298" y="391" width="6" height="1" fill="#808080"/>
<rect x="51" y="406" width="5" height="1" fill="#808080"/>
<rect x="1298" y="406" width="6" height="1" fill="#808080"/>
<rect x="51" y="421" width="5" height="1" fill="#808080"/>
<rect x="1298" y="421" width="6" height="1" fill="#808080"/>
<rect x="46" y="435" width="10" height="2"/>
<rect x="1298" y="435" width="10" height="2"/>
<rect x="51" y="450" width="5" height="1" fill="#808080"/>
<rect x="1298" y="450" width="6" height="1" fill="#808080"/>
<rect x="51" y="465" width="5" height="1" fill="#808080"/>
<rect x="1298" y="465" width="6" height="1" fill="#808080"/>
<rect x="51" y="480" width="5" height="1" fill="#808080"/>
<rect x="1298" y="480" width="6" height="1" fill="#808080"/>
<rect x="51" y="495" width="5" height="1" fill="#808080"/>
<rect x="1298" y="495" width="6" height="1" fill="#808080"/>
<rect x="46" y="508" width="10" height="2"/>
<rect x="1298" y="508" width="10" height="2"/>
<rect x="51" y="523" width="5" height="1" fill="#808080"/>
<rect x="1298" y="523" width="6" height="1" fill="#808080"/>
<rect x="51" y="538" width="5" height="1" fill="#808080"/>
<rect x="1298" y="538" width="6" height="1" fill="#808080"/>
<rect x="51" y="553" width="5" height="1" fill="#808080"/>
<rect x="1298" y="553" width="6" height="1" fill="#808080"/>
<rect x="51" y="568" width="5" height="1" fill="#808080"/>
<rect x="1298" y="568" width="6" height="1" fill="#808080"/>
<rect x="46" y="582" width="10" height="2"/>
<rect x="1298" y="582" width="10" height="2"/>
<rect x="51" y="597" width="5" height="1" fill="#808080"/>
<rect x="1298" y="597" width="6" height="1" fill="#808080"/>
<rect x="56" y="607" width="2" height="6"/>
<rect x="84" y="607" width="2" height="6"/>
<rect x="112" y="607" width="2" height="6"/>
<rect x="140" y="607" width="2" height="6"/>
<rect x="168" y="607" width="2" height="6"/>
<rect x="196" y="607" width="2" height="6"/>
<rect x="224" y="607" width="2" height="6"/>
<rect x="251" y="607" width="2" height="6"/>
<rect x="279" y="607" width="2" height="6"/>
<rect x="307" y="607" width="2" height="6"/>
<rect x="335" y="607" width="2" height="6"/>
<rect x="363" y="607" width="2" height="6"/>
<rect x="391" y="607" width="2" height="6"/>
<rect x="419" y="607" width="2" height="6"/>
<rect x="446" y="607" width="2" height="6"/>
<rect x="474" y="607" width="2" height="6"/>
<rect x="502" y="607" width="2" height="6"/>
<rect x="530" y="607" width="2" height="6"/>
<rect x="558" y="607" width="2" height="6"/>
<rect x="586" y="607" width="2" height="6"/>
<rect x="613" y="607" width="2" height="6"/>
<rect x="641" y="607" width="2" height="6"/>
<rect x="669" y="607" width="2" height="6"/>
<rect x="697" y="607" width="2" height="6"/>
<rect x="725" y="607" width="2" height="6"/>
<rect x="753" y="607" width="2" height="6"/>
<rect x="781" y="607" width="2" height="6"/>
<rect x="808" y="607" width="2" height="6"/>
<rect x="836" y="607" width="2" height="6"/>
<rect x="864" y="607" width="2" height="6"/>
<rect x="892" y="607" width="2" height="6"/>
<rect x="920" y="607" width="2" height="6"/>
<rect x="948" y="607" width="2" height="6"/>
<rect x="975" y="607" width="2" height="6"/>
<rect x="1003" y="607" width="2" height="6"/>
<rect x="1031" y="607" width="2" height="6"/>
<rect x="1170" y="607" width="2" height="6"/>
</g>
<text x="3.00" y="69.6" textLength="38.00" lengthAdjust="spacingAndGlyphs">1.5849</text>
<text x="1310.90" y="69.6" textLength="38.40" lengthAdjust="spacingAndGlyphs">1.5849</text>
<text x="3.00" y="143.6" textLength="38.00" lengthAdjust="spacingAndGlyphs">1.5668</text>
<text x="1310.90" y="143.6" textLength="38.40" lengthAdjust="spacingAndGlyphs">1.5668</text>
<text x="3.00" y="217.6" textLength="38.00" lengthAdjust="spacingAndGlyphs">1.5488</text>
<text x="1310.90" y="217.6" textLength="38.40" lengthAdjust="spacingAndGlyphs">1.5488</text>
<text x="3.00" y="291.6" textLength="38.00" lengthAdjust="spacingAndGlyphs">1.5311</text>
<text x="1310.90" y="291.6" textLength="38.41" lengthAdjust="spacingAndGlyphs">1.5311</text>
<text x="3.00" y="365.6" textLength="38.00" lengthAdjust="spacingAndGlyphs">1.5136</text>
<text x="1310.90" y="365.6" textLength="38.40" lengthAdjust="spacingAndGlyphs">1.5136</text>
<text x="3.00" y="439.6" textLength="38.00" lengthAdjust="spacingAndGlyphs">1.4962</text>
<text x="1310.90" y="439.6" textLength="38.40" lengthAdjust="spacingAndGlyphs">1.4962</text>
<text x="3.00" y="512.6" textLength="38.00" lengthAdjust="spacingAndGlyphs">1.4791</text>
<text x="1310.90" y="512.6" textLength="38.40" lengthAdjust="spacingAndGlyphs">1.4791</text>
<text x="3.00" y="586.6" textLength="38.00" lengthAdjust="spacingAndGlyphs">1.4622</text>
<text x="1310.90" y="586.6" textLength="38.40" lengthAdjust="spacingAndGlyphs">1.4622</text>
<text x="60.30" y="625.8" textLength="69.10" lengthAdjust="spacingAndGlyphs">18 Nov 2014</text>
<text x="198.60" y="625.8" textLength="37.91" lengthAdjust="spacingAndGlyphs">03 Dec</text>
<text x="339.30" y="625.8" textLength="61.80" lengthAdjust="spacingAndGlyphs">17 Dec 16h</text>
<text x="477.40" y="625.8" textLength="61.10" lengthAdjust="spacingAndGlyphs">06 Jan 04h</text>
<text x="615.90" y="625.8" textLength="60.80" lengthAdjust="spacingAndGlyphs">20 Jan 16h</text>
<text x="755.40" y="625.8" textLength="62.29" lengthAdjust="spacingAndGlyphs">04 Feb 04h</text>
<text x="896.10" y="625.8" textLength="61.50" lengthAdjust="spacingAndGlyphs">18 Feb 16h</text>
<text x="1034.40" y="625.8" textLength="62.00" lengthAdjust="spacingAndGlyphs">03 Mar 00h</text>
<text x="1173.80" y="625.8" textLength="61.60" lengthAdjust="spacingAndGlyphs">17 Mar 12h</text>
<rect class="c" x="237.5" y="614.5" width="38" height="17" fill="#f4f4f4" stroke="#000" stroke-width="1"/>
<text x="240.90" y="626.6" textLength="29.61" lengthAdjust="spacingAndGlyphs">16:00</text>
<text x="63.50" y="12.6" textLength="43.61" lengthAdjust="spacingAndGlyphs">Bar:530</text>
<text x="114.00" y="12.6" textLength="27.90" lengthAdjust="spacingAndGlyphs">Date:</text>
<text x="149.80" y="12.6" textLength="62.90" lengthAdjust="spacingAndGlyphs">09.12.2014</text>
<text x="220.00" y="12.6" textLength="31.40" lengthAdjust="spacingAndGlyphs">Time:</text>
<text x="259.00" y="12.6" textLength="30.11" lengthAdjust="spacingAndGlyphs">16:00</text>
<text x="296.80" y="12.6" textLength="3.29" lengthAdjust="spacingAndGlyphs">|</text>
<text x="304.20" y="12.6" textLength="52.10" lengthAdjust="spacingAndGlyphs">O:1.5683</text>
<text x="363.50" y="12.6" textLength="50.50" lengthAdjust="spacingAndGlyphs">H:1.5683</text>
<text x="421.00" y="12.6" textLength="48.29" lengthAdjust="spacingAndGlyphs">L:1.5683</text>
<text x="476.20" y="12.6" textLength="51.40" lengthAdjust="spacingAndGlyphs">C:1.5683</text>
<text x="539.50" y="12.6" textLength="96.80" lengthAdjust="spacingAndGlyphs">[GBPUSD:m240]</text>
<text x="643.20" y="12.6" textLength="15.30" lengthAdjust="spacingAndGlyphs">Up</text>
<text x="953.80" y="12.6" textLength="28.90" lengthAdjust="spacingAndGlyphs">Date:</text>
<text x="988.30" y="12.6" textLength="48.99" lengthAdjust="spacingAndGlyphs">25.02.15</text>
<text x="1043.60" y="12.6" textLength="31.40" lengthAdjust="spacingAndGlyphs">Time:</text>
<text x="1080.10" y="12.6" textLength="49.30" lengthAdjust="spacingAndGlyphs">22:11:58</text>
<text x="1134.60" y="12.6" textLength="3.29" lengthAdjust="spacingAndGlyphs">|</text>
<text x="1141.60" y="12.6" textLength="21.80" lengthAdjust="spacingAndGlyphs">Bid:</text>
<text x="1170.90" y="12.6" textLength="36.40" lengthAdjust="spacingAndGlyphs">1.5525</text>
<text x="1212.40" y="12.6" textLength="25.10" lengthAdjust="spacingAndGlyphs">Ask:</text>
<text x="1245.70" y="12.6" textLength="36.40" lengthAdjust="spacingAndGlyphs">1.5526</text>
</svg></body></html>
